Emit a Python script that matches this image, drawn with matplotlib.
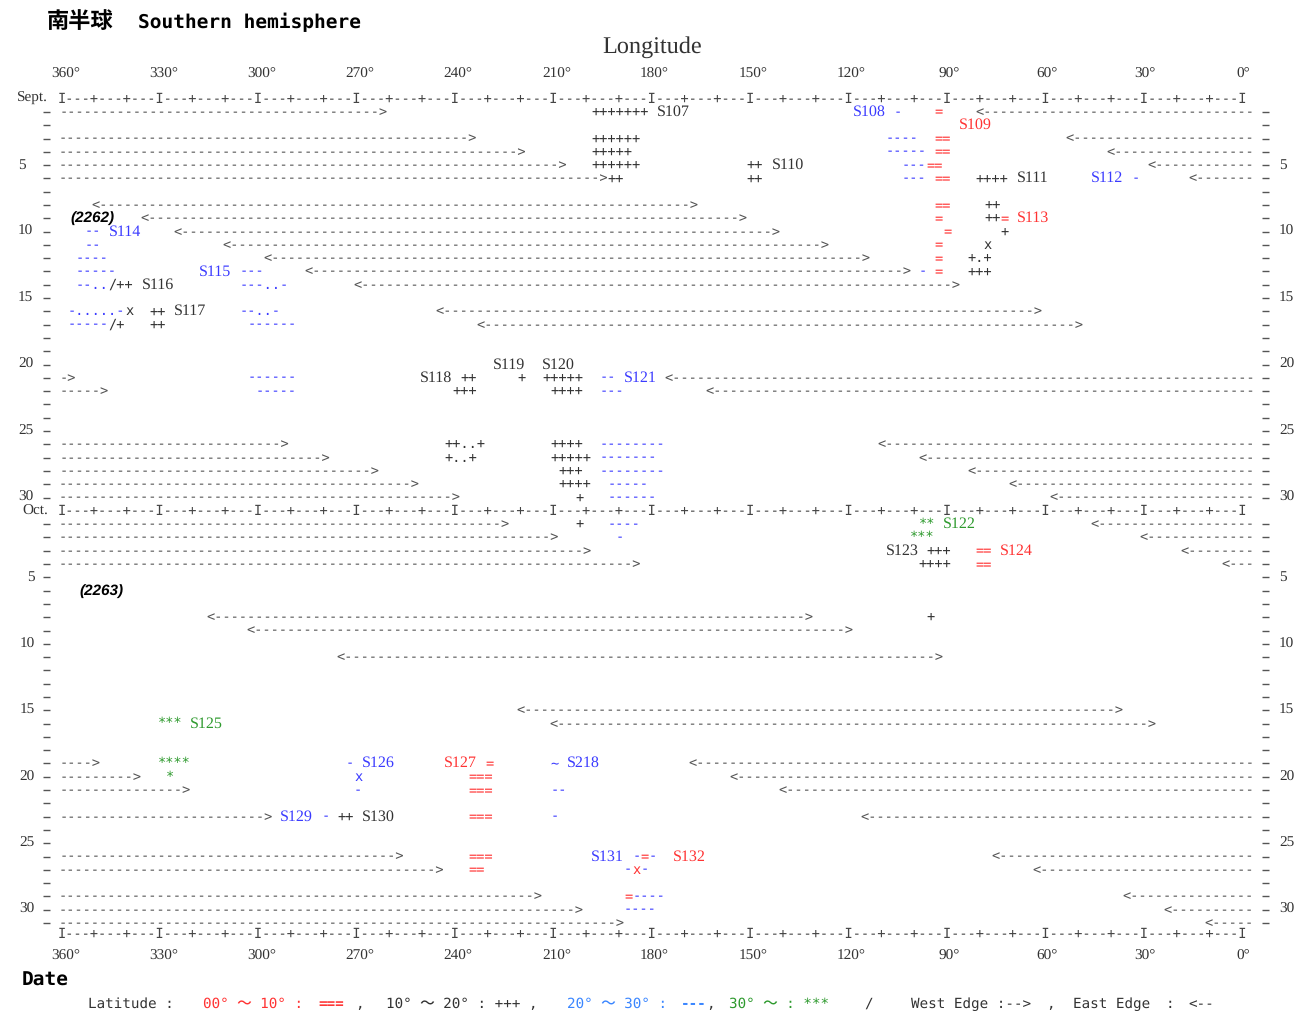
import matplotlib
matplotlib.use('Agg')
import matplotlib.pyplot as plt
from matplotlib.transforms import blended_transform_factory

plt.rcParams['text.hinting'] = 'no_hinting'

W, H = 1309, 1014

# longitude labels on the rulers
lon_ticks = [360, 330, 300, 270, 240, 210, 180, 150, 120, 90, 60, 30, 0]

# day index: Sept d -> d, Oct d -> 30 + d
# edge arrows: west edge "--->" runs from 360 to the tip, east edge "<---" from the tip to 0
edge_day = [1, 3, 4, 5, 6, 21, 22, 26, 27, 28, 29, 30, 31, 32, 33, 34,
            49, 50, 51, 53, 56, 57, 59, 60, 61]
west_tip = [262.5, 235, 220, 207.5, 195, 357.5, 347.5, 292.5, 280, 265, 252.5, 240,
            225, 210, 200, 185, 350, 337.5, 322.5, 297.5, 257.5, 245, 215, 202.5, 190]
east_tip = [80, 52.5, 40, 27.5, 15, 175, 162.5, 110, 97.5, 82.5, 70, 57.5,
            45, 30, 17.5, 5, 167.5, 155, 140, 115, 75, 62.5, 35, 22.5, 10]

# "<------>" spans (left end, right end)
span_day = [8, 9, 10, 11, 12, 13, 14, 16, 17, 38, 39, 41, 45, 46]
span_left = [350, 335, 325, 310, 297.5, 285, 270, 245, 232.5, 315, 302.5, 275, 220, 210]
span_right = [167.5, 152.5, 142.5, 127.5, 115, 102.5, 87.5, 62.5, 50, 132.5, 120, 92.5, 37.5, 27.5]

# latitude band marks: (day, longitude of first char, symbols)
eq_marks = [(1, 92.5, '='), (3, 92.5, '=='), (4, 92.5, '=='), (5, 95, '=='), (6, 92.5, '=='),
            (8, 92.5, '=='), (9, 92.5, '='), (9, 72.5, '='), (10, 90, '='), (11, 92.5, '='),
            (12, 92.5, '='), (13, 92.5, '='), (33, 80, '=='), (34, 80, '=='),
            (49, 230, '='), (50, 235, '==='), (51, 235, '==='), (53, 235, '==='),
            (56, 235, '==='), (56, 182.5, '='), (57, 235, '=='), (57, 185, 'x'), (59, 187.5, '=')]
mid_marks = [(1, 197.5, '+++++++'), (3, 197.5, '++++++'), (4, 197.5, '+++++'),
             (5, 197.5, '++++++'), (5, 150, '++'), (6, 192.5, '++'), (6, 150, '++'),
             (6, 80, '++++'), (8, 77.5, '++'), (9, 77.5, '++'), (10, 72.5, '+'),
             (11, 77.5, 'x'), (12, 82.5, '+.+'), (13, 82.5, '+++'), (14, 345, '/++'),
             (16, 340, 'x'), (16, 332.5, '++'), (17, 345, '/+'), (17, 332.5, '++'),
             (21, 237.5, '++'), (21, 220, '+'), (21, 212.5, '+++++'), (22, 240, '+++'),
             (22, 210, '++++'), (26, 242.5, '++..+'), (26, 210, '++++'), (27, 242.5, '+..+'),
             (27, 210, '+++++'), (28, 207.5, '+++'), (29, 207.5, '++++'), (30, 202.5, '+'),
             (31, 202.5, '+'), (33, 95, '+++'), (34, 97.5, '++++'), (38, 95, '+'),
             (53, 275, '++')]
sub_marks = [(1, 105, '-'), (3, 107.5, '----'), (4, 107.5, '-----'), (5, 102.5, '---'),
             (6, 102.5, '---'), (6, 32.5, '-'), (10, 352.5, '--'), (11, 352.5, '--'),
             (12, 355, '----'), (13, 355, '-----'), (13, 305, '---'), (13, 97.5, '-'),
             (14, 355, '--..'), (14, 305, '---..-'), (16, 357.5, '-.....-'), (16, 305, '--..-'),
             (17, 357.5, '-----'), (17, 302.5, '------'), (21, 302.5, '------'), (21, 195, '--'),
             (22, 300, '-----'), (22, 195, '---'), (26, 195, '--------'), (27, 195, '-------'),
             (28, 195, '--------'), (29, 192.5, '-----'), (30, 192.5, '------'),
             (31, 192.5, '----'), (32, 190, '-'), (49, 272.5, '-'), (49, 210, '~'),
             (50, 270, 'x'), (51, 270, '-'), (51, 210, '--'), (53, 280, '-'), (53, 210, '-'),
             (56, 185, '-'), (56, 180, '-'), (57, 187.5, '-'), (57, 182.5, '-'),
             (59, 185, '----'), (60, 187.5, '----')]
high_marks = [(31, 97.5, '**'), (32, 100, '***'), (46, 330, '***'), (49, 330, '****'),
              (50, 327.5, '*')]

# storm numbers: (day, longitude, name, band)
storms = [(1, 177.5, 'S107', 'mid'), (1, 117.5, 'S108', 'sub'), (2, 85, 'S109', 'eq'),
          (5, 142.5, 'S110', 'mid'), (6, 67.5, 'S111', 'mid'), (6, 45, 'S112', 'sub'),
          (9, 67.5, 'S113', 'eq'), (10, 345, 'S114', 'sub'), (13, 317.5, 'S115', 'sub'),
          (14, 335, 'S116', 'mid'), (16, 325, 'S117', 'mid'), (21, 250, 'S118', 'mid'),
          (20, 227.5, 'S119', 'mid'), (20, 212.5, 'S120', 'mid'), (21, 187.5, 'S121', 'sub'),
          (31, 90, 'S122', 'high'), (33, 107.5, 'S123', 'mid'), (33, 72.5, 'S124', 'eq'),
          (46, 320, 'S125', 'high'), (49, 267.5, 'S126', 'sub'), (49, 242.5, 'S127', 'eq'),
          (49, 205, 'S218', 'sub'), (53, 292.5, 'S129', 'sub'), (53, 267.5, 'S130', 'mid'),
          (56, 197.5, 'S131', 'sub'), (56, 172.5, 'S132', 'eq')]

RED, BLACK, BLUE, GREEN = '#ff3333', '#333333', '#3b3bff', '#2e9a2e'
band_color = {'eq': RED, 'mid': BLACK, 'sub': BLUE, 'high': GREEN}
ARROW = '#555555'
MONO = 'DejaVu Sans Mono'
SERIF = 'Liberation Serif'
FS = 9.8
CELL = 2.5


def row_of(day):
    # the "Oct." ruler takes one row between Sept 30 and Oct 1
    return day if day <= 30 else day + 1


def col_of(lon):
    return int(round((360 - lon) / CELL))


fig = plt.figure(figsize=(W / 100, H / 100), dpi=100)
ax = fig.add_axes([50 / W, 1 - 935 / H, (1262 - 50) / W, (935 - 90) / H])
ax.set_xlim(364.19, -6.23)
ax.set_ylim(62.9, -0.65)
for sp in ax.spines.values():
    sp.set_visible(False)
ax.set_xticks([])
ax.set_yticks([row_of(d) for d in range(1, 62)])
ax.tick_params(axis='y', left=True, right=True, length=5, width=1, color='#555555',
               labelleft=False, labelright=False)


def put(row, lon, s, color, family=MONO, size=FS, **kw):
    xc = lon - (len(s) - 1) * CELL / 2
    ax.text(xc, row, s, ha='center', va='center', color=color,
            family=family, fontsize=size, **kw)


# rulers
ruler = ''
for i in range(col_of(0) + 1):
    lon = 360 - i * CELL
    ruler += 'I' if lon % 30 == 0 else ('+' if lon % 10 == 0 else '-')
for r in [0, 31, 62.85]:
    put(r, 360, ruler, '#444444')

# edge arrows
END = -2.5
for d, wt, et in zip(edge_day, west_tip, east_tip):
    put(row_of(d), 360, '-' * col_of(wt) + '>', ARROW)
    put(row_of(d), et, '<' + '-' * (col_of(END) - col_of(et)), ARROW)
for d, a, b in zip(span_day, span_left, span_right):
    put(row_of(d), a, '<' + '-' * (col_of(b) - col_of(a) - 1) + '>', ARROW)

# latitude marks
for marks, band in [(eq_marks, 'eq'), (mid_marks, 'mid'), (sub_marks, 'sub'), (high_marks, 'high')]:
    for d, lon, s in marks:
        put(row_of(d), lon, s, band_color[band])

for d, lon, name, band in storms:
    put(row_of(d), lon, name, band_color[band], family=SERIF, size=11.5)

ax.text(357.8, row_of(9), '(2262)', ha='left', va='center', family='Liberation Sans',
        style='italic', weight='bold', fontsize=11, color='black')
ax.text(355.3, row_of(36), '(2263)', ha='left', va='center', family='Liberation Sans',
        style='italic', weight='bold', fontsize=11, color='black')

# longitude labels
for v in lon_ticks:
    for r in [-1.86, 64.5]:
        ax.text(v - 0.6, r, f'{v}°', ha='center', va='center', family=SERIF,
                fontsize=11, color='#333333')

# date labels
tr = blended_transform_factory(fig.transFigure, ax.transData)
for d in range(1, 62):
    dom = d if d <= 30 else d - 30
    if dom % 5:
        continue
    if d <= 30:
        ax.text(18 / W, row_of(d), str(dom), transform=tr, ha='left', va='center',
                family=SERIF, fontsize=11, color='#333333')
    else:
        ax.text(35 / W, row_of(d), str(dom), transform=tr, ha='right', va='center',
                family=SERIF, fontsize=11, color='#333333')
    ax.text(1279 / W, row_of(d), str(dom), transform=tr, ha='left', va='center',
            family=SERIF, fontsize=11, color='#333333')
ax.text(48 / W, 0, 'Sept.', transform=tr, ha='right', va='center', family=SERIF,
        fontsize=11, color='#333333')
ax.text(48 / W, 31, 'Oct.', transform=tr, ha='right', va='center', family=SERIF,
        fontsize=11, color='#333333')

# titles
fig.text(47 / W, 1 - 22 / H, '南半球', family='Noto Sans CJK JP', weight='bold',
         fontsize=16, va='center')
fig.text(138 / W, 1 - 22 / H, 'Southern hemisphere', family=MONO, weight='bold',
         fontsize=14, va='center')
fig.text(652 / W, 1 - 47 / H, 'Longitude', family=SERIF, fontsize=17.5, ha='center',
         va='center', color='#333333')
fig.text(22 / W, 1 - 980 / H, 'Date', family=MONO, weight='bold', fontsize=14,
         va='center')

# legend line
LBLUE = '#3a86ff'
legend = [(88, 'Latitude :', BLACK, 'normal'),
          (203, '00° ～ 10° :', RED, 'normal'),
          (318, '===', RED, 'bold'),
          (355, ',', BLACK, 'normal'),
          (386, '10° ～ 20° : +++ ,', BLACK, 'normal'),
          (567, '20° ～ 30° :', LBLUE, 'normal'),
          (681, '---', LBLUE, 'bold'),
          (706, ',', BLACK, 'normal'),
          (729, '30° ～ : ***', GREEN, 'normal'),
          (864, '/', BLACK, 'normal'),
          (911, 'West Edge :-->', BLACK, 'normal'),
          (1046, ',', BLACK, 'normal'),
          (1073, 'East Edge', BLACK, 'normal'),
          (1166, ':', BLACK, 'normal'),
          (1188, '<--', BLACK, 'normal')]
for x, s, c, wgt in legend:
    fig.text(x / W, 1 - 1004 / H, s, family=[MONO, 'Noto Sans CJK JP'], fontsize=FS + 0.5,
             color=c, weight=wgt, va='center')

fig.savefig('out.png', dpi=100)
